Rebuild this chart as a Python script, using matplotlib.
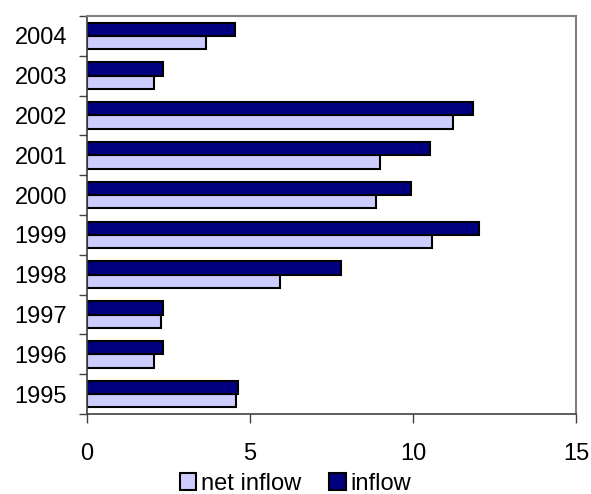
import matplotlib
matplotlib.use("Agg")
import matplotlib.pyplot as plt
import numpy as np

plt.rcParams['font.family'] = ['Liberation Sans', 'DejaVu Sans']

years = ["1995", "1996", "1997", "1998", "1999", "2000", "2001", "2002", "2003", "2004"]
net_inflow = [4.56, 2.07, 2.26, 5.91, 10.58, 8.87, 9.00, 11.24, 2.06, 3.66]
inflow = [4.64, 2.33, 2.32, 7.78, 12.03, 9.93, 10.53, 11.84, 2.32, 4.55]
x_ticks = [0, 5, 10, 15]

fig = plt.figure(figsize=(5.91, 4.94), dpi=100)
ax = fig.add_axes([87 / 591, 1 - 414 / 494, (576 - 87) / 591, (414 - 16) / 494])

pos = np.arange(len(years))
h = 0.333
ax.barh(pos - h / 2, net_inflow, height=h, color='#CCCCFF', edgecolor='black',
        linewidth=1.5, label='net inflow')
ax.barh(pos + h / 2, inflow, height=h, color='#000080', edgecolor='black',
        linewidth=1.5, label='inflow')

ax.set_xlim(0, 15)
ax.set_ylim(-0.5, len(years) - 0.5)
ax.set_xticks(x_ticks)
ax.set_xticklabels([str(t) for t in x_ticks], fontsize=17)

# tick marks between categories, labels centred on each category
ax.set_yticks(np.arange(-0.5, len(years), 1.0))
ax.set_yticklabels([])
ax.set_yticks(pos, minor=True)
ax.set_yticklabels(years, minor=True, fontsize=17)
ax.tick_params(axis='y', which='minor', length=0, pad=14.4)
ax.tick_params(axis='y', which='major', length=6, width=1, color='#404040', direction='out')
ax.tick_params(axis='x', length=6.5, width=1, color='#404040', direction='out', pad=14.5)

for side in ('top', 'right'):
    ax.spines[side].set_color('#808080')
    ax.spines[side].set_linewidth(1.5)
for side in ('left', 'bottom'):
    ax.spines[side].set_color('#404040')
    ax.spines[side].set_linewidth(1.2)

fig.legend(loc='center', bbox_to_anchor=(0.5, 1 - 484 / 494),
           ncol=2, frameon=False, fontsize=17, handlelength=0.7, handleheight=0.7,
           handletextpad=0.2, columnspacing=1.2, borderaxespad=0)

fig.savefig('out.png', dpi=100)
